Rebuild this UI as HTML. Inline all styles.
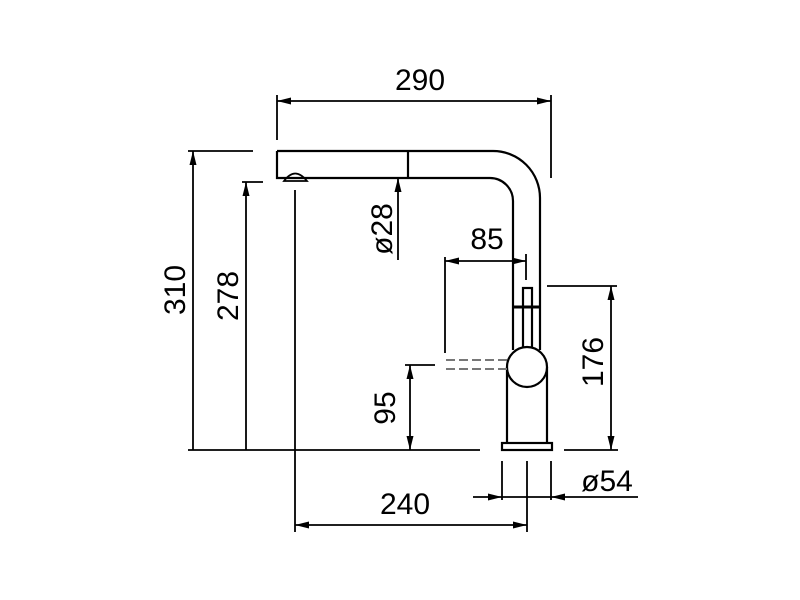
<!DOCTYPE html>
<html><head><style>html,body{margin:0;padding:0;background:#fff}svg{display:block}</style></head><body>
<svg width="800" height="600" viewBox="0 0 800 600" xmlns="http://www.w3.org/2000/svg">
<defs>
<marker id="a" viewBox="0 0 14 7" refX="14" refY="3.5" markerWidth="14" markerHeight="7" markerUnits="userSpaceOnUse" orient="auto-start-reverse"><path d="M0,0L14,3.5L0,7z" fill="#000"/></marker>
</defs>
<g stroke="#000" stroke-width="2.2" fill="none">
<path d="M277,151 H493 A47,47 0 0 1 540,198 V350"/>
<path d="M277,151 V178 H490 A23,23 0 0 1 513,201 V350"/>
<line x1="408" y1="151" x2="408" y2="178"/>
<path d="M284,181 Q295,166 307,181 Z" stroke-width="1.8"/>
<rect x="523" y="288" width="9" height="60" fill="#fff"/>
<line x1="513" y1="307" x2="540" y2="307" stroke-width="3"/>
<path d="M507,367 V443 M547,367 V443"/>
<circle cx="527" cy="367" r="20" fill="#fff"/>
<rect x="502" y="443" width="50" height="7" fill="#fff"/>
</g>
<g stroke="#777" stroke-width="2" stroke-dasharray="9,4" fill="none">
<line x1="446" y1="360" x2="507" y2="360"/><line x1="446" y1="369" x2="507" y2="369"/>
</g>
<g stroke="#000" stroke-width="1.8" fill="none">
<line x1="188" y1="450" x2="480" y2="450"/><line x1="564" y1="450" x2="618" y2="450"/>
<line x1="295" y1="190" x2="295" y2="532"/>
<line x1="277" y1="95" x2="277" y2="140"/><line x1="551" y1="95" x2="551" y2="178"/>
<line x1="277" y1="101" x2="551" y2="101" marker-start="url(#a)" marker-end="url(#a)"/>
<line x1="188" y1="151" x2="253" y2="151"/>
<line x1="193" y1="151" x2="193" y2="450" marker-start="url(#a)"/>
<line x1="242" y1="182" x2="263" y2="182"/>
<line x1="246" y1="182" x2="246" y2="450" marker-start="url(#a)"/>
<line x1="398" y1="178" x2="398" y2="260" marker-start="url(#a)"/>
<line x1="445" y1="257" x2="445" y2="353"/>
<line x1="526" y1="254" x2="526" y2="280"/>
<line x1="445" y1="261" x2="526" y2="261" marker-start="url(#a)" marker-end="url(#a)"/>
<line x1="405" y1="365" x2="435" y2="365"/>
<line x1="410" y1="365" x2="410" y2="450" marker-start="url(#a)" marker-end="url(#a)"/>
<line x1="547" y1="286" x2="617" y2="286"/>
<line x1="611" y1="286" x2="611" y2="450" marker-start="url(#a)" marker-end="url(#a)"/>
<line x1="502" y1="461" x2="502" y2="500"/><line x1="527" y1="461" x2="527" y2="532"/><line x1="551" y1="461" x2="551" y2="500"/>
<line x1="473" y1="497" x2="502" y2="497" marker-end="url(#a)"/>
<line x1="638" y1="497" x2="551" y2="497" marker-end="url(#a)"/>
<line x1="502" y1="497" x2="551" y2="497"/>
<line x1="295" y1="525" x2="527" y2="525" marker-start="url(#a)" marker-end="url(#a)"/>
</g>
<g font-family="Liberation Sans, sans-serif" font-size="30" fill="#000" text-anchor="middle">
<text x="420" y="90">290</text>
<text x="405" y="514">240</text>
<text x="607" y="491">ø54</text>
<text x="487" y="249">85</text>
<text transform="translate(185,290) rotate(-90)">310</text>
<text transform="translate(238,296) rotate(-90)">278</text>
<text transform="translate(392,229) rotate(-90)">ø28</text>
<text transform="translate(395,408) rotate(-90)">95</text>
<text transform="translate(603,362) rotate(-90)">176</text>
</g>
</svg>
</body></html>
